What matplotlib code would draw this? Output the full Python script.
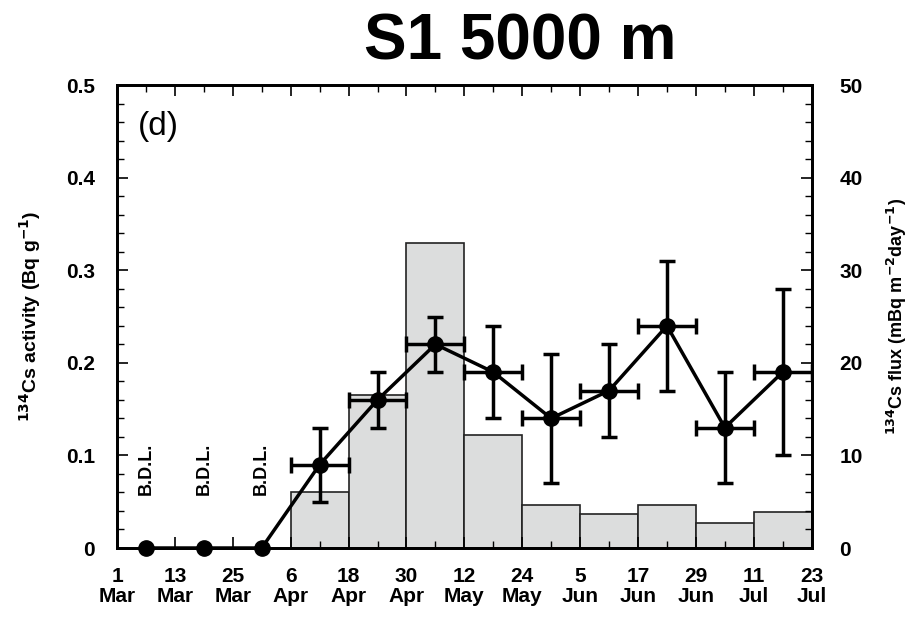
import matplotlib
matplotlib.use("Agg")
import matplotlib.pyplot as plt
from matplotlib.ticker import MultipleLocator
import numpy as np

# ---- data ----
edge_labels = ["1\nMar", "13\nMar", "25\nMar", "6\nApr", "18\nApr", "30\nApr", "12\nMay",
               "24\nMay", "5\nJun", "17\nJun", "29\nJun", "11\nJul", "23\nJul"]
bin_days = 12
activity = [0, 0, 0, 0.09, 0.16, 0.22, 0.19, 0.14, 0.17, 0.24, 0.13, 0.19]
activity_err = [0, 0, 0, 0.04, 0.03, 0.03, 0.05, 0.07, 0.05, 0.07, 0.06, 0.09]
flux = [0, 0, 0, 6.0, 16.5, 32.9, 12.2, 4.6, 3.7, 4.6, 2.7, 3.9]
bdl_bins = [0, 1, 2]

plt.rcParams['font.family'] = ['Liberation Sans', 'DejaVu Sans']
plt.rcParams['font.weight'] = 'bold'
plt.rcParams['mathtext.default'] = 'bf'

fig = plt.figure(figsize=(9.12, 6.26), dpi=100)
ax = fig.add_axes([0.1283, 0.1246, 0.7617, 0.7395])
ax2 = ax.twinx()

n = len(activity)
edges = np.arange(n + 1) * bin_days
centers = edges[:-1] + bin_days / 2

# bars (flux) on right axis
ax2.bar(centers[3:], flux[3:], width=bin_days, align='center',
        facecolor='#dcdddd', edgecolor='#222222', linewidth=1.2)
ax2.set_ylim(0, 50)
ax2.set_xlim(0, edges[-1])

# activity on left axis, drawn above
ax.set_zorder(ax2.get_zorder() + 1)
ax.patch.set_visible(False)
ax.plot(centers, activity, color='black', lw=2.5, marker='o', ms=11, zorder=3, clip_on=False)
ax.errorbar(centers[3:], activity[3:], yerr=activity_err[3:], xerr=bin_days / 2,
            fmt='none', ecolor='black', elinewidth=2.5, capsize=6, capthick=2.5, zorder=3)
for b in bdl_bins:
    ax.text(centers[b], 0.085, "B.D.L.", rotation=90, ha='center', va='center',
            fontsize=13, fontweight='bold')

ax.set_xlim(0, edges[-1])
ax.set_ylim(0, 0.5)
ax.set_xticks(edges)
ax.set_xticklabels(edge_labels, fontsize=15, fontweight='bold', linespacing=1.05)
ax.xaxis.set_minor_locator(MultipleLocator(bin_days / 2))
ax.set_yticks([0, 0.1, 0.2, 0.3, 0.4, 0.5])
ax.set_yticklabels(["0", "0.1", "0.2", "0.3", "0.4", "0.5"], fontsize=15, fontweight='bold')
ax.yaxis.set_minor_locator(MultipleLocator(0.02))
ax2.set_yticks([0, 10, 20, 30, 40, 50])
ax2.set_yticklabels(["0", "10", "20", "30", "40", "50"], fontsize=15, fontweight='bold')
ax2.yaxis.set_minor_locator(MultipleLocator(2))

ax.tick_params(axis='both', which='both', direction='in', top=True, right=False)
ax.tick_params(axis='both', which='major', length=8, width=1.2)
ax.tick_params(axis='y', which='major', pad=16)
ax.tick_params(axis='both', which='minor', length=5, width=1.0)
ax.tick_params(axis='x', which='major', pad=14)
ax2.tick_params(axis='y', which='both', direction='in')
ax2.tick_params(axis='y', which='major', length=8, width=1.2, pad=20)
ax2.tick_params(axis='y', which='minor', length=5, width=1.0)
for a in (ax, ax2):
    for s in a.spines.values():
        s.set_linewidth(2.0)

ax.set_ylabel(r"$^{134}$Cs activity (Bq g$^{-1}$)", fontsize=14, fontweight='bold', labelpad=16)
ax2.set_ylabel(r"$^{134}$Cs flux (mBq m$^{-2}$day$^{-1}$)", fontsize=13, fontweight='bold', labelpad=16)

ax.text(0.03, 0.91, "(d)", transform=ax.transAxes, fontsize=24, fontweight='normal',
        ha='left', va='center')
fig.text(520 / 912, 1 - 42 / 626, "S1 5000 m", fontsize=46, fontweight='bold',
         ha='center', va='center')

fig.savefig("out.png", dpi=100)
